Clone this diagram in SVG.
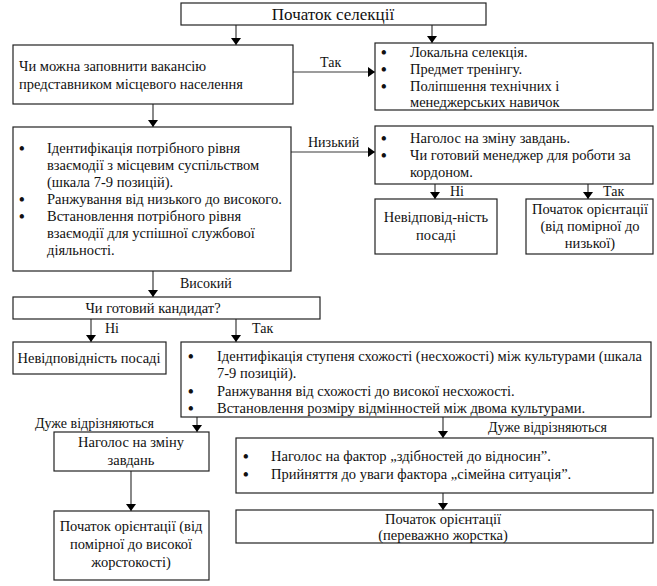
<svg xmlns="http://www.w3.org/2000/svg" width="657" height="586" viewBox="0 0 657 586" font-family="'Liberation Serif', 'Times New Roman', serif">
<defs>
<marker id="ah" markerWidth="7" markerHeight="10" refX="7" refY="5" orient="auto" markerUnits="userSpaceOnUse" viewBox="0 0 7 10">
<path d="M0,0 L7,5 L0,10 z" fill="#000"/>
</marker>
<style>
text{font-family:'Liberation Serif','Times New Roman',serif;font-size:14.5px;fill:#111}
.box{fill:#fff;stroke:#222;stroke-width:1.2}
.c{text-anchor:middle}
.t{font-size:17px}
.con{fill:none;stroke:#3a3a3a;stroke-width:1.2;marker-end:url(#ah)}
.lbl{font-size:14px}
.b{font-size:16px;font-weight:bold}
</style>
</defs>
<rect width="657" height="586" fill="#fff"/>
<g id="connectors">
<line class="con" x1="236" y1="25" x2="236" y2="45"/>
<line class="con" x1="432" y1="25" x2="432" y2="43"/>
<line class="con" x1="293" y1="72" x2="375" y2="72"/>
<line class="con" x1="153" y1="104" x2="153" y2="127"/>
<line class="con" x1="291" y1="152" x2="375" y2="152"/>
<line class="con" x1="435" y1="184" x2="435" y2="199"/>
<line class="con" x1="588" y1="184" x2="588" y2="199"/>
<line class="con" x1="153" y1="271" x2="153" y2="297"/>
<line class="con" x1="91" y1="319" x2="91" y2="342"/>
<line class="con" x1="236" y1="319" x2="236" y2="342"/>
<line class="con" x1="197" y1="417" x2="197" y2="432"/>
<line class="con" x1="443" y1="417" x2="443" y2="438"/>
<line class="con" x1="131" y1="471" x2="131" y2="511"/>
<line class="con" x1="443" y1="493" x2="443" y2="510"/>
<text class="lbl" x="320" y="67">Так</text>
<text class="lbl" x="308" y="147">Низький</text>
<text class="lbl" x="450" y="196">Ні</text>
<text class="lbl" x="603" y="196">Так</text>
<text class="lbl" x="180" y="288">Високий</text>
<text class="lbl" x="105" y="333">Ні</text>
<text class="lbl" x="252" y="333">Так</text>
<text class="lbl" x="35" y="428">Дуже відрізняються</text>
<text class="lbl" x="488" y="432">Дуже відрізняються</text>
</g>
<g id="n-start">
<rect class="box" x="181" y="3" width="305" height="22"/>
<text class="c t" x="333" y="20">Початок селекції</text>
</g>
<g id="n-q1">
<rect class="box" x="13" y="45" width="280" height="59"/>
<text x="19" y="71">Чи можна заповнити вакансію</text>
<text x="19" y="89">представником місцевого населення</text>
</g>
<g id="n-local">
<rect class="box" x="375" y="43" width="278" height="67"/>
<text class="b" x="381" y="58">•</text><text x="410" y="57">Локальна селекція.</text>
<text class="b" x="381" y="75">•</text><text x="410" y="74">Предмет тренінгу.</text>
<text class="b" x="381" y="92">•</text><text x="410" y="91">Поліпшення технічних і</text>
<text x="410" y="107">менеджерських навичок</text>
</g>
<g id="n-ident">
<rect class="box" x="13" y="127" width="278" height="144"/>
<text class="b" x="19" y="154">•</text><text x="47" y="153">Ідентифікація потрібного рівня</text>
<text x="47" y="170">взаємодії з місцевим суспільством</text>
<text x="47" y="187">(шкала 7-9 позицій).</text>
<text class="b" x="19" y="205">•</text><text x="47" y="204">Ранжування від низького до високого.</text>
<text class="b" x="19" y="222">•</text><text x="47" y="221">Встановлення потрібного рівня</text>
<text x="47" y="238">взаємодії для успішної службової</text>
<text x="47" y="255">діяльності.</text>
</g>
<g id="n-low">
<rect class="box" x="375" y="126" width="278" height="58"/>
<text class="b" x="381" y="144">•</text><text x="410" y="143">Наголос на зміну завдань.</text>
<text class="b" x="381" y="161">•</text><text x="410" y="160">Чи готовий менеджер для роботи за</text>
<text x="410" y="177">кордоном.</text>
</g>
<g id="n-mismatch1">
<rect class="box" x="375" y="199" width="122" height="55"/>
<text class="c" x="436" y="222">Невідповід-ність</text>
<text class="c" x="436" y="240">посаді</text>
</g>
<g id="n-orient1">
<rect class="box" x="526" y="199" width="127" height="55"/>
<text class="c" x="590" y="214">Початок орієнтації</text>
<text class="c" x="590" y="231">(від помірної до</text>
<text class="c" x="590" y="248">низької)</text>
</g>
<g id="n-ready">
<rect class="box" x="13" y="297" width="307" height="22"/>
<text class="c" x="153" y="313">Чи готовий кандидат?</text>
</g>
<g id="n-mismatch2">
<rect class="box" x="13" y="342" width="153" height="32"/>
<text class="c" x="89" y="363">Невідповідність посаді</text>
</g>
<g id="n-culture">
<rect class="box" x="181" y="342" width="470" height="75"/>
<text class="b" x="188" y="362">•</text><text x="217" y="361">Ідентифікація ступеня схожості (несхожості) між культурами (шкала</text>
<text x="217" y="378">7-9 позицій).</text>
<text class="b" x="188" y="397">•</text><text x="217" y="396">Ранжування від схожості до високої несхожості.</text>
<text class="b" x="188" y="414">•</text><text x="217" y="413">Встановлення розміру відмінностей між двома культурами.</text>
</g>
<g id="n-tasks">
<rect class="box" x="54" y="432" width="155" height="39"/>
<text class="c" x="131" y="447">Наголос на зміну</text>
<text class="c" x="131" y="465">завдань</text>
</g>
<g id="n-orient2">
<rect class="box" x="54" y="511" width="155" height="69"/>
<text class="c" x="131" y="531">Початок орієнтації (від</text>
<text class="c" x="131" y="549">помірної до високої</text>
<text class="c" x="131" y="567">жорстокості)</text>
</g>
<g id="n-factors">
<rect class="box" x="236" y="438" width="417" height="55"/>
<text class="b" x="243" y="462">•</text><text x="271" y="461">Наголос на фактор „здібностей до відносин”.</text>
<text class="b" x="243" y="480">•</text><text x="271" y="479">Прийняття до уваги фактора „сімейна ситуація”.</text>
</g>
<g id="n-orient3">
<rect class="box" x="236" y="510" width="417" height="33"/>
<text class="c" x="443" y="524">Початок орієнтації</text>
<text class="c" x="443" y="540">(переважно жорстка)</text>
</g>
</svg>
